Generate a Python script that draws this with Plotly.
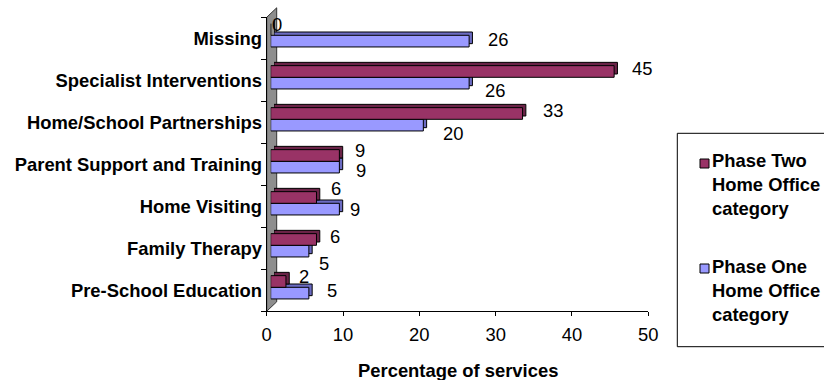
import plotly.graph_objects as go

W, H = 824, 380

# ---- data -------------------------------------------------------------
categories = ["Pre-School Education", "Family Therapy", "Home Visiting",
              "Parent Support and Training", "Home/School Partnerships",
              "Specialist Interventions", "Missing"]
phase_two = [2, 6, 6, 9, 33, 45, 0]
phase_one = [5, 5, 9, 9, 20, 26, 26]
x_ticks = [0, 10, 20, 30, 40, 50]
name_two = "Phase Two Home Office category"
name_one = "Phase One Home Office category"

# ---- styling -----------------------------------------------------------
FONT = "Liberation Sans, Arial, sans-serif"
FS = 18.4
COL_TWO, COL_TWO_DARK = "#993366", "#6a2347"
COL_ONE, COL_ONE_DARK = "#9999FF", "#6b6bc2"
WALL = "#8e8e8e"

# label nudges (px) so the value labels sit like hand-placed labels
two_dx = [13, 14, 15, 16, 20, 18, 1]
two_dy = [5, 3, 9, 5, 3, 3, 5]
one_dx = [18, 10, 11, 17, 20, 16, 19]
one_dy = [3, -12, 0, -3, -8, -7, 2]

# plot-area geometry in pixels (front plane), plus the 3-D depth offsets
PX0, PX1 = 266.7, 648.3
PTOP, PBOT = 17.3, 311.3
BAR_OFF = (4.0, 3.0)       # bars sit slightly behind the front plane
DEPTH = (3.3, 3.3)         # extrusion of each bar
WALL_D = (10.0, 9.5)       # depth of the side wall


def xdom(dx):
    return [(PX0 + dx) / W, (PX1 + dx) / W]


def ydom(dy):
    # dy > 0 lifts the domain up the page
    return [(H - PBOT + dy) / H, (H - PTOP + dy) / H]


def px(x):
    return x / W


def py(y):
    return (H - y) / H


fig = go.Figure()

# anchor trace for the visible front axes
fig.add_trace(go.Scatter(x=phase_one, y=categories, mode="markers",
                         marker=dict(opacity=0), hoverinfo="skip",
                         showlegend=False, xaxis="x", yaxis="y"))

# back faces (give the bars their extruded top and end)
for vals, col in [(phase_one, COL_ONE_DARK), (phase_two, COL_TWO_DARK)]:
    fig.add_trace(go.Bar(x=vals, y=categories, orientation="h",
                         marker=dict(color=col, line=dict(color="black", width=1)),
                         hoverinfo="skip", showlegend=False,
                         xaxis="x2", yaxis="y2"))

# front faces
for vals, col, nm in [(phase_one, COL_ONE, name_one),
                      (phase_two, COL_TWO, name_two)]:
    fig.add_trace(go.Bar(x=vals, y=categories, orientation="h", name=nm,
                         marker=dict(color=col, line=dict(color="black", width=1)),
                         showlegend=False, xaxis="x3", yaxis="y3"))

cat_axis = dict(type="category", categoryorder="array", categoryarray=categories,
                range=[-0.5, 6.5])
hidden_x = dict(range=[0, 50], visible=False, fixedrange=True)
hidden_y = dict(visible=False, fixedrange=True, **cat_axis)

fig.update_layout(
    width=W, height=H,
    margin=dict(l=0, r=0, t=0, b=0),
    paper_bgcolor="white", plot_bgcolor="rgba(0,0,0,0)",
    barmode="group", bargap=0.445, bargroupgap=0,
    showlegend=False,
    font=dict(family=FONT, size=FS, color="black"),
    xaxis=dict(domain=xdom(0), range=[0, 50], tickvals=x_ticks,
               showgrid=False, zeroline=False, showline=True,
               linecolor="black", linewidth=1, ticks="outside", ticklen=4,
               tickcolor="black", tickfont=dict(size=FS),
               ticklabelstandoff=3, anchor="y", automargin=False),
    yaxis=dict(domain=ydom(0), showgrid=False, zeroline=False, showline=True,
               linecolor="black", linewidth=1, ticks="outside", ticklen=5,
               tickcolor="black", tickson="boundaries",
               tickfont=dict(size=FS, weight="bold"), anchor="x",
               automargin=False, **cat_axis),
    xaxis2=dict(domain=xdom(BAR_OFF[0] + DEPTH[0]), anchor="y2", **hidden_x),
    yaxis2=dict(domain=ydom(BAR_OFF[1] + DEPTH[1]), anchor="x2", **hidden_y),
    xaxis3=dict(domain=xdom(BAR_OFF[0]), anchor="y3", **hidden_x),
    yaxis3=dict(domain=ydom(BAR_OFF[1]), anchor="x3", **hidden_y),
)

shapes = []
# grey side wall behind the category axis
wx0, wx1 = px(PX0), px(PX0 + WALL_D[0])
shapes.append(dict(
    type="path", xref="paper", yref="paper", layer="below",
    path=(f"M {wx0},{py(PBOT)} L {wx1},{py(PBOT - WALL_D[1])} "
          f"L {wx1},{py(PTOP - WALL_D[1])} L {wx0},{py(PTOP)} Z"),
    fillcolor=WALL, line=dict(color="#333333", width=1)))

# legend box with swatches
shapes.append(dict(type="rect", xref="paper", yref="paper",
                   x0=px(677.3), x1=px(840), y0=py(346.7), y1=py(133.3),
                   line=dict(color="black", width=1), fillcolor="white",
                   layer="below"))
annotations = []
for name, col, yc in [(name_two, COL_TWO, 185), (name_one, COL_ONE, 290)]:
    y_first = yc - 24
    shapes.append(dict(type="rect", xref="paper", yref="paper",
                       x0=px(700), x1=px(709), y0=py(y_first + 7),
                       y1=py(y_first - 2), fillcolor=col,
                       line=dict(color="black", width=1)))
    words = name.split(" ")
    text = "<br>".join([" ".join(words[:2]), " ".join(words[2:4]), words[4]])
    annotations.append(dict(xref="paper", yref="paper", x=px(710), y=py(yc),
                            xanchor="left", yanchor="middle", align="left",
                            showarrow=False, text=text,
                            font=dict(size=FS, weight="bold")))

# value labels
half_bar = (1 - 0.445) * (PBOT - PTOP) / len(categories) / 4
for vals, dxs, dys, sgn in [(phase_two, two_dx, two_dy, 1),
                            (phase_one, one_dx, one_dy, -1)]:
    for cat, v, dx, dy in zip(categories, vals, dxs, dys):
        annotations.append(dict(xref="x3", yref="y3", x=v, y=cat,
                                xanchor="left", yanchor="middle",
                                xshift=dx - 2, yshift=sgn * half_bar + dy,
                                showarrow=False, text=str(v),
                                font=dict(size=FS)))

# axis title
annotations.append(dict(xref="paper", yref="paper", x=px((PX0 + PX1) / 2),
                        y=py(370), xanchor="center", yanchor="middle",
                        showarrow=False, text="Percentage of services",
                        font=dict(size=FS, weight="bold")))

fig.update_layout(shapes=shapes, annotations=annotations)
fig.write_html("out.html")
